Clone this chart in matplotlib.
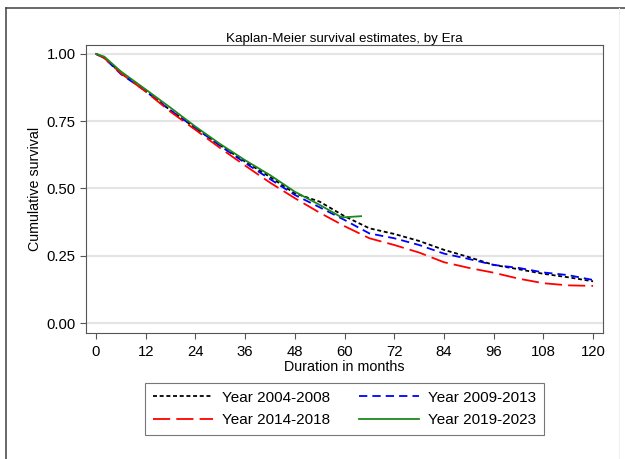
import matplotlib
matplotlib.use("Agg")
import matplotlib.pyplot as plt
from matplotlib.lines import Line2D

plt.rcParams['font.family'] = ['Liberation Sans', 'DejaVu Sans']

# Kaplan-Meier estimates by era (months, survival)
months_0408 = [0, 2, 6, 12, 18, 24, 30, 36, 42, 48, 54, 60, 66, 72, 78, 84, 90, 96, 102, 108, 114, 120]
surv_0408 = [1.0, 0.985, 0.93, 0.862, 0.79, 0.725, 0.66, 0.60, 0.543, 0.482, 0.451, 0.397, 0.352, 0.331, 0.305, 0.272, 0.245, 0.216, 0.200, 0.183, 0.170, 0.155]

months_0913 = [0, 2, 6, 12, 18, 24, 30, 36, 42, 48, 54, 60, 66, 72, 78, 84, 90, 96, 102, 108, 114, 120]
surv_0913 = [1.0, 0.985, 0.925, 0.862, 0.79, 0.725, 0.658, 0.595, 0.535, 0.476, 0.430, 0.383, 0.333, 0.315, 0.290, 0.258, 0.238, 0.216, 0.205, 0.188, 0.178, 0.160]

months_1418 = [0, 2, 6, 12, 18, 24, 30, 36, 42, 48, 54, 60, 66, 72, 78, 84, 90, 96, 102, 108, 114, 120]
surv_1418 = [1.0, 0.985, 0.928, 0.860, 0.785, 0.718, 0.650, 0.585, 0.522, 0.464, 0.410, 0.360, 0.315, 0.290, 0.262, 0.226, 0.205, 0.187, 0.165, 0.148, 0.140, 0.138]

months_1923 = [0, 2, 6, 12, 18, 24, 30, 36, 42, 48, 54, 57, 59, 60, 64]
surv_1923 = [1.0, 0.99, 0.935, 0.868, 0.80, 0.73, 0.665, 0.605, 0.55, 0.488, 0.439, 0.413, 0.395, 0.393, 0.397]

x_ticks = [0, 12, 24, 36, 48, 60, 72, 84, 96, 108, 120]
y_ticks = [0, 0.25, 0.5, 0.75, 1.0]

fig = plt.figure(figsize=(6.25, 4.59), dpi=100)
ax = fig.add_axes([86 / 625, 1 - 333 / 459, 517 / 625, 288 / 459])

ax.set_axisbelow(True)
ax.grid(axis='y', color='#e4e4e4', linewidth=1.5)

l1, = ax.plot(months_0408, surv_0408, color='black', lw=1.3, dashes=(2.2, 1.5), label='Year 2004-2008')
l2, = ax.plot(months_0913, surv_0913, color='blue', lw=1.3, dashes=(4.6, 2.8), label='Year 2009-2013')
l3, = ax.plot(months_1418, surv_1418, color='red', lw=1.3, dashes=(9.5, 3.4), label='Year 2014-2018')
l4, = ax.plot(months_1923, surv_1923, color='#1a8a1a', lw=1.3, label='Year 2019-2023')

ax.set_xlim(-2.4, 122.4)
ax.set_ylim(-0.037, 1.033)
ax.set_xticks(x_ticks)
ax.set_yticks(y_ticks)
ax.set_yticklabels(['%.2f' % v for v in y_ticks])
ax.tick_params(direction='out', length=4.3, width=0.8, color='#555555', labelsize=10.7, pad=3)
ax.tick_params(axis='x', pad=4)
for s in ax.spines.values():
    s.set_color('#555555')
    s.set_linewidth(0.8)

ax.set_title('Kaplan-Meier survival estimates, by Era', fontsize=9.6, pad=2)
ax.set_xlabel('Duration in months', fontsize=10.3, labelpad=1)
ax.set_ylabel('Cumulative survival', fontsize=10.3, labelpad=3)

leg = fig.legend([l1, l3, l2, l4], [l1.get_label(), l3.get_label(), l2.get_label(), l4.get_label()],
                 loc='upper center', bbox_to_anchor=(344.5 / 625, 1 - 383 / 459), ncol=2,
                 fontsize=11, handlelength=3.9, handletextpad=0.6, columnspacing=1.9,
                 labelspacing=0.55, borderpad=0.5, fancybox=False, framealpha=1,
                 edgecolor='#777777', borderaxespad=0)
leg.get_frame().set_linewidth(0.8)

# outer border of the graph region
fig.add_artist(Line2D([5.5 / 625, 5.5 / 625], [0, 1 - 8 / 459], transform=fig.transFigure, color='#404040', lw=1.1))
fig.add_artist(Line2D([5.5 / 625, 1], [1 - 8 / 459, 1 - 8 / 459], transform=fig.transFigure, color='#404040', lw=1.1))
fig.add_artist(Line2D([619 / 625, 619 / 625], [0, 1 - 8 / 459], transform=fig.transFigure, color='#f0f0f0', lw=0.8))

fig.savefig('out.png', dpi=100)
